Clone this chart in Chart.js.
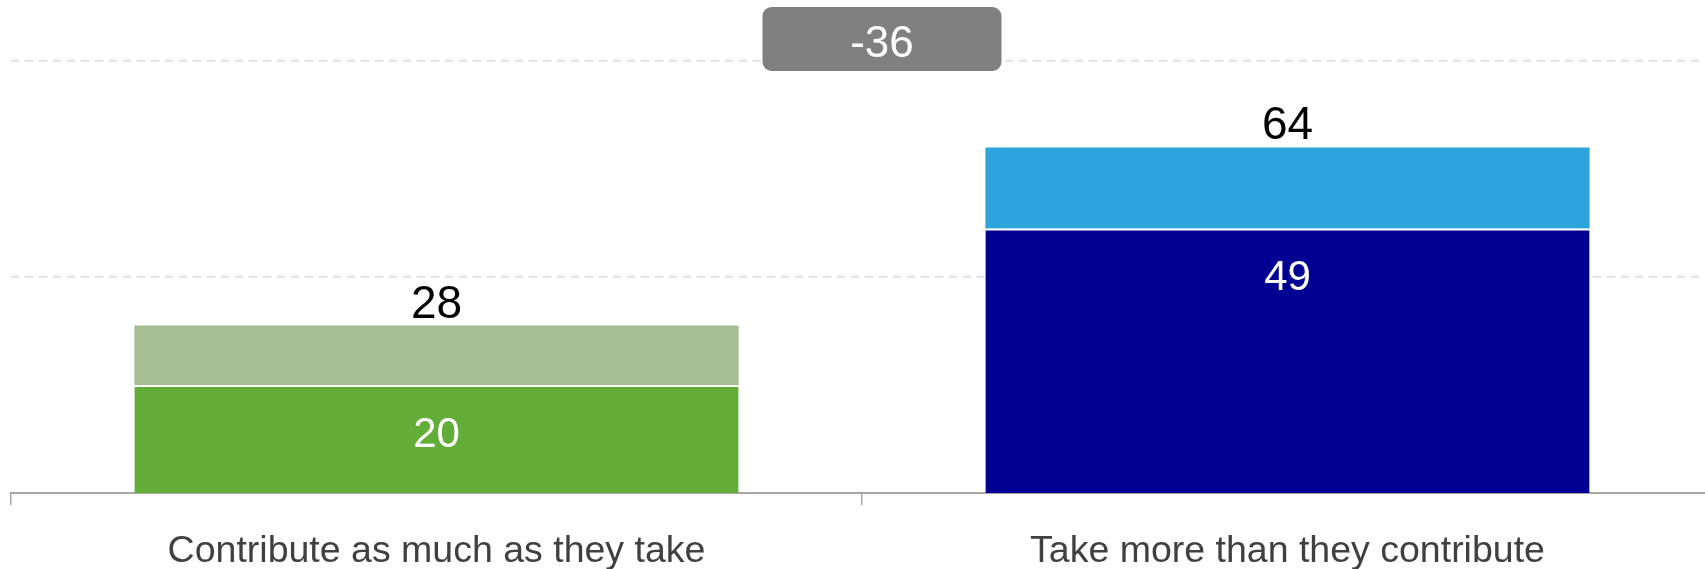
<!DOCTYPE html>
<html>
<head>
<meta charset="utf-8">
<script src="https://cdn.jsdelivr.net/npm/chart.js@4.4.1/dist/chart.umd.min.js"></script>
<style>
  body { margin: 0; background: #fff; overflow: hidden; }
  #wrap { width: 1713px; height: 569px; position: relative; }
</style>
</head>
<body>
<div id="wrap"><canvas id="chart"></canvas></div>
<script>
const categories = ['Contribute as much as they take', 'Take more than they contribute'];
const baseValues = [20, 49];
const topValues = [11, 15];
const totalLabels = [28, 64];
const gapLabel = -36;
const gridTicks = [40, 80];

const baseColors = ['#62AD37', '#000093'];
const topColors = ['#A3BE92', '#2DA5DC'];
const FONT = '"Liberation Sans", Arial, sans-serif';

// draws the numbers on the bars and the gap box at the top
const labelPlugin = {
  id: 'barLabels',
  afterDatasetsDraw(chart) {
    const ctx = chart.ctx;
    const baseMeta = chart.getDatasetMeta(0);
    const topMeta = chart.getDatasetMeta(1);
    ctx.save();
    ctx.textAlign = 'center';
    ctx.textBaseline = 'alphabetic';
    categories.forEach((c, i) => {
      const b = baseMeta.data[i];
      const t = topMeta.data[i];
      ctx.fillStyle = '#000';
      ctx.font = '46px ' + FONT;
      ctx.fillText(String(totalLabels[i]), t.x, t.y - 8);
      ctx.fillStyle = '#fff';
      ctx.font = '42px ' + FONT;
      ctx.fillText(String(baseValues[i]), b.x, b.y + 62);
    });

    const xs = chart.scales.x;
    const cx = (xs.getPixelForValue(0) + xs.getPixelForValue(1)) / 2 + 20;
    const w = 239, h = 64, r = 9;
    const x0 = cx - w / 2, y0 = chart.chartArea.top;
    ctx.fillStyle = '#808080';
    ctx.beginPath();
    ctx.roundRect(x0, y0, w, h, r);
    ctx.fill();
    ctx.fillStyle = '#fff';
    ctx.font = '44px ' + FONT;
    ctx.fillText(String(gapLabel), cx, y0 + h / 2 + 18);
    ctx.restore();
  }
};

new Chart(document.getElementById('chart'), {
  type: 'bar',
  data: {
    labels: categories,
    datasets: [
      {
        data: baseValues,
        backgroundColor: baseColors,
        borderColor: '#fff',
        borderWidth: { top: 2, left: 0, right: 0, bottom: 0 },
        borderSkipped: false
      },
      {
        data: topValues,
        backgroundColor: topColors,
        borderWidth: 0
      }
    ]
  },
  options: {
    responsive: true,
    maintainAspectRatio: false,
    animation: false,
    layout: { padding: { top: 7, left: 11, right: 0, bottom: 0 } },
    datasets: { bar: { barPercentage: 0.71, categoryPercentage: 1 } },
    plugins: { legend: { display: false }, tooltip: { enabled: false } },
    scales: {
      x: {
        stacked: true,
        offset: true,
        afterFit: (scale) => { scale.height = 76; },
        grid: {
          offset: true,
          drawOnChartArea: false,
          drawTicks: true,
          tickLength: 12,
          color: '#A6A6A6',
          lineWidth: 1.5
        },
        border: { color: '#A6A6A6', width: 2 },
        ticks: {
          color: '#404040',
          font: { family: FONT, size: 37.5 },
          padding: 24,
          maxRotation: 0
        }
      },
      y: {
        stacked: true,
        min: 0,
        max: 90,
        afterBuildTicks: (scale) => { scale.ticks = gridTicks.map(v => ({ value: v })); },
        ticks: { display: false },
        border: { display: false, dash: [8, 6] },
        grid: {
          color: '#D9D9D9',
          lineWidth: 1.5,
          drawTicks: false,
          borderDash: [8, 6]
        }
      }
    }
  },
  plugins: [labelPlugin]
});
</script>
</body>
</html>
